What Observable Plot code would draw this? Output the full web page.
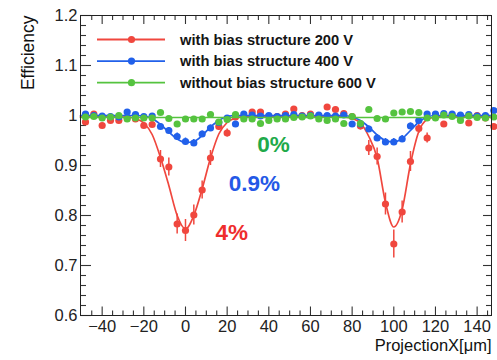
<!DOCTYPE html>
<html><head><meta charset="utf-8">
<script src="https://cdn.jsdelivr.net/npm/d3@7"></script>
<script src="https://cdn.jsdelivr.net/npm/@observablehq/plot@0.6"></script>
<style>
body{margin:0;background:#fff;}
#chart{width:497px;height:360px;}
</style></head><body><div id="chart"></div>
<script>
// ---- data ----
const xPos = [-48,-44,-40,-36,-32,-28,-24,-20,-16,-12,-8,-4,0,4,8,12,16,20,24,28,32,36,40,44,48,52,56,60,64,68,72,76,80,84,88,92,96,100,104,108,112,116,120,124,128,132,136,140,144,148];

const red = [0.987,1.003,0.980,0.990,0.990,0.996,0.993,0.980,0.982,0.913,0.897,0.783,0.770,0.801,0.851,0.915,0.978,0.965,0.997,0.998,1.007,1.007,0.998,0.998,1.003,1.013,1.000,1.003,0.999,1.017,1.012,1.004,0.998,0.979,0.935,0.918,0.823,0.743,0.807,0.908,0.974,0.955,1.000,0.983,1.000,0.998,0.985,1.000,0.995,0.978];
const redErr = [0.005,0.005,0.005,0.005,0.005,0.005,0.005,0.005,0.005,0.017,0.018,0.020,0.022,0.020,0.018,0.015,0.008,0.008,0.005,0.005,0.005,0.005,0.005,0.005,0.005,0.005,0.005,0.005,0.005,0.005,0.005,0.005,0.005,0.008,0.015,0.017,0.022,0.028,0.022,0.020,0.010,0.010,0.005,0.005,0.005,0.005,0.005,0.005,0.005,0.005];

const blue = [1.003,1.000,0.999,0.998,0.997,1.007,1.002,0.998,0.999,0.978,0.970,0.958,0.948,0.945,0.963,0.975,0.986,0.995,0.983,1.003,1.001,0.999,1.000,0.998,1.000,1.002,0.999,1.000,1.001,1.000,0.999,1.001,0.983,0.983,0.973,0.955,0.947,0.947,0.953,0.979,0.990,1.003,1.003,1.004,1.003,1.001,1.002,0.999,1.000,1.010];
const blueErr = [0.004,0.004,0.004,0.004,0.004,0.004,0.004,0.004,0.004,0.006,0.006,0.007,0.007,0.007,0.006,0.006,0.005,0.004,0.004,0.004,0.004,0.004,0.004,0.004,0.004,0.004,0.004,0.004,0.004,0.004,0.004,0.004,0.005,0.005,0.006,0.007,0.007,0.007,0.007,0.006,0.005,0.004,0.004,0.004,0.004,0.004,0.004,0.004,0.004,0.004];

const green = [0.997,0.998,0.995,0.997,1.000,0.993,0.995,0.995,0.995,1.006,0.994,0.983,0.993,0.993,0.993,1.002,0.987,0.992,1.002,0.993,0.993,0.984,0.990,0.993,0.993,0.996,0.997,0.999,0.993,0.990,0.993,0.984,0.998,0.984,1.012,0.994,0.993,1.005,1.007,1.008,1.006,0.995,0.995,1.001,0.998,0.990,0.999,0.996,0.995,0.997];
const greenErr = xPos.map(() => 0.003);

// fit curves
const fitX = [-50.4,-28,-24,-20,-16,-12,-8,-4,0,4,8,12,16,20,24,28,72,76,80,84,88,92,96,100,104,108,112,116,120,124,128,146.9];
const fitRed = [0.998,0.997,0.994,0.985,0.962,0.916,0.860,0.800,0.773,0.800,0.853,0.915,0.963,0.986,0.995,0.998,0.998,0.997,0.994,0.985,0.958,0.915,0.826,0.777,0.812,0.903,0.968,0.992,0.997,0.998,0.998,0.998];
const fitBlue = [1.000,1.000,1.000,0.999,0.994,0.982,0.967,0.953,0.946,0.948,0.960,0.977,0.990,0.998,1.000,1.000,1.000,1.000,0.997,0.990,0.977,0.961,0.950,0.947,0.954,0.970,0.987,0.997,1.000,1.000,1.000,1.000];
const fitGreenX = [-50.4, 146.9];
const fitGreen = [0.996, 0.996];

const legendLabels = ["with bias structure 200 V","with bias structure 400 V","without bias structure 600 V"];
const notes = [
  {label: "0%", x: 34.4, y: 0.941, color: "#1faa4a"},
  {label: "0.9%", x: 20.8, y: 0.864, color: "#2458e6"},
  {label: "4%", x: 14.4, y: 0.765, color: "#ef2d2d"}
];

const xDomain = [-50.4, 146.9];
const yDomain = [0.6, 1.2];
const xMajor = [-40,-20,0,20,40,60,80,100,120,140];
const xMinor = [-45,-35,-30,-25,-15,-10,-5,5,10,15,25,30,35,45,50,55,65,70,75,85,90,95,105,110,115,125,130,135,145];
const yMajor = [0.6,0.7,0.8,0.9,1,1.1,1.2];
const yMinor = [0.62,0.64,0.66,0.68,0.72,0.74,0.76,0.78,0.82,0.84,0.86,0.88,0.92,0.94,0.96,0.98,1.02,1.04,1.06,1.08,1.12,1.14,1.16,1.18];

// ---- styling ----
const C = {red: "#f0473e", blue: "#2160ea", green: "#55c33f"};
const W = 497, H = 360, mL = 80, mR = 6, mT = 15, mB = 45;
const FONT = "'Liberation Sans', Arial, sans-serif";
const yPerPx = (yDomain[1] - yDomain[0]) / (H - mT - mB);
const xPerPx = (xDomain[1] - xDomain[0]) / (W - mL - mR);

const rows = (vals, errs) => xPos.map((x, i) => ({x, v: vals[i], e: errs[i]}));
const fit = (xs, ys) => xs.map((x, i) => ({x, v: ys[i]}));

function series(vals, errs, fx, fy, color) {
  const r = rows(vals, errs);
  return [
    Plot.line(fit(fx, fy), {x: "x", y: "v", stroke: color, strokeWidth: 1.7, curve: "monotone-x"}),
    Plot.ruleX(r, {x: "x", y1: d => d.v - d.e, y2: d => d.v + d.e, stroke: color, strokeWidth: 1.5}),
    Plot.dot(r, {x: "x", y: "v", r: 3.6, fill: color, stroke: "none"})
  ];
}

// inward ticks on all four sides (lengths in pixels, converted through the scales)
const tk = "#333";
const xTicks = (vals, lb, lt) => [
  Plot.ruleX(vals, {x: d => d, y1: yDomain[0], y2: yDomain[0] + lb * yPerPx, stroke: tk, strokeWidth: 1.1}),
  Plot.ruleX(vals, {x: d => d, y1: yDomain[1] - lt * yPerPx, y2: yDomain[1], stroke: tk, strokeWidth: 1.1})
];
const yTicks = (vals, ll, lr) => [
  Plot.ruleY(vals, {y: d => d, x1: xDomain[0], x2: xDomain[0] + ll * xPerPx, stroke: tk, strokeWidth: 1.1}),
  Plot.ruleY(vals, {y: d => d, x1: xDomain[1] - lr * xPerPx, x2: xDomain[1], stroke: tk, strokeWidth: 1.1})
];

const plot = Plot.plot({
  width: W, height: H,
  marginLeft: mL, marginRight: mR, marginTop: mT, marginBottom: mB,
  x: {domain: xDomain, label: null},
  y: {domain: yDomain, label: null},
  style: {fontFamily: FONT, fontSize: "16px", background: "#fff", color: "#222", overflow: "visible"},
  marks: [
    ...xTicks(xMinor, 4.5, 5),
    ...xTicks(xMajor, 8.5, 9),
    ...yTicks(yMinor, 6, 5),
    ...yTicks(yMajor, 11, 8),
    Plot.axisX({ticks: xMajor, tickSize: 0, tickPadding: 5, tickFormat: d3.format("d"), label: null, fontSize: 16.5}),
    Plot.axisY({ticks: yMajor, tickSize: 0, tickPadding: 3, tickFormat: d => String(d), label: null, fontSize: 16.5}),
    ...series(red, redErr, fitX, fitRed, C.red),
    ...series(blue, blueErr, fitX, fitBlue, C.blue),
    ...series(green, greenErr, fitGreenX, fitGreen, C.green),
    Plot.frame({stroke: "#222"}),
    Plot.text(notes, {x: "x", y: "y", text: "label", fill: "color", textAnchor: "start", fontSize: 22.5, fontWeight: "bold", fontFamily: FONT}),
    Plot.text(["Efficiency"], {frameAnchor: "top-left", dx: -59, rotate: -90, textAnchor: "end", fontSize: 17.5, fill: "#111"}),
    Plot.text(["ProjectionX[μm]"], {frameAnchor: "bottom-right", dy: 35, textAnchor: "end", fontSize: 16.5, fill: "#111"})
  ]
});

// legend
const colors = [C.red, C.blue, C.green];
const svg = d3.select(plot);
const lg = svg.append("g");
legendLabels.forEach((lab, i) => {
  const y = 39.5 + 21.6 * i;
  lg.append("line").attr("x1", 97).attr("x2", 165).attr("y1", y).attr("y2", y)
    .attr("stroke", colors[i]).attr("stroke-width", 1.8);
  lg.append("circle").attr("cx", 131.5).attr("cy", y).attr("r", 3.6).attr("fill", colors[i]);
  lg.append("text").attr("x", 180).attr("y", y).attr("dy", "0.35em")
    .attr("text-anchor", "start")
    .attr("font-size", 14.7).attr("font-weight", "bold").attr("fill", "#151515")
    .attr("font-family", FONT).text(lab);
});

document.getElementById("chart").appendChild(plot);
</script>
</body></html>
